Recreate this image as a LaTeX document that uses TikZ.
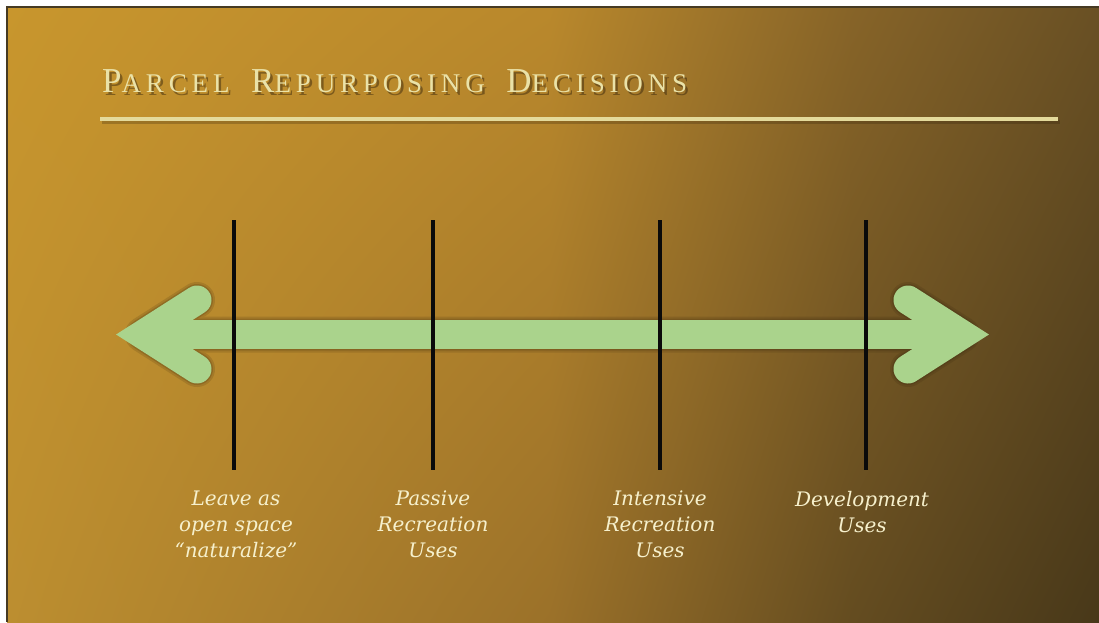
\documentclass[tikz,border=0pt]{standalone}
\usepackage{fontspec}
\setmainfont{Liberation Serif}
\newfontfamily\titlefont{Liberation Serif}[LetterSpace=18]
\newfontfamily\labelfont{DejaVu Serif}
\usetikzlibrary{calc,shadings}

% slide palette
\definecolor{bgTL}{RGB}{200,150,45}
\definecolor{bgTM}{RGB}{185,136,44}
\definecolor{bgTR1}{RGB}{135,100,40}
\definecolor{bgTR}{RGB}{105,80,36}
\definecolor{bgBL}{RGB}{188,142,48}
\definecolor{bgBM}{RGB}{155,113,41}
\definecolor{bgBR1}{RGB}{100,76,32}
\definecolor{bgBR}{RGB}{72,56,25}
\definecolor{frame}{RGB}{70,58,35}
\definecolor{cream}{RGB}{234,226,168}
\definecolor{rulecol}{RGB}{228,218,155}
\definecolor{labelcol}{RGB}{246,240,204}
\definecolor{arrowgreen}{RGB}{170,211,140}
\definecolor{shadowcol}{RGB}{45,30,10}

\newcommand\tcap[1]{{\fontsize{35}{36}\selectfont#1}}
\newcommand\wgap{\hspace{10pt}}
\newcommand\titletext{\titlefont\fontsize{27}{30}\selectfont
  \tcap{P}ARCEL\wgap{} \tcap{R}EPURPOSING\wgap{} \tcap{D}ECISIONS}

\tikzset{
  marker/.style={line width=4.5pt, draw={rgb,255:red,10;green,10;blue,10}},
  choice/.style={font=\labelfont\itshape\fontsize{20}{26}\selectfont,
                 text=labelcol, align=center, inner sep=0pt, anchor=north},
  arrowbody/.style={line width=29pt, draw=arrowgreen, line cap=round, line join=miter},
  shaftbody/.style={line width=29pt, draw=arrowgreen, line cap=butt},
}

\begin{document}
\begin{tikzpicture}[x=1pt,y=-1pt]
\useasboundingbox (0,0) rectangle (1099,622);
\fill[white] (0,0) rectangle (1099,622);

% background panels, shaded corner to corner
\shade[upper left=bgTL, upper right=bgTM, lower left=bgBL, lower right=bgBM]
  (7,7) rectangle (551,622);
\shade[upper left=bgTM, upper right=bgTR1, lower left=bgBM, lower right=bgBR1]
  (550,7) rectangle (851,622);
\shade[upper left=bgTR1, upper right=bgTR, lower left=bgBR1, lower right=bgBR]
  (850,7) rectangle (1099,622);
\draw[frame, line width=1.2pt] (7,622) -- (7,7) -- (1099,7);

% title with a soft shadow
\node[anchor=base west, inner sep=0pt, text=shadowcol, opacity=0.45] (titleshadow)
  at (104.5,95) {\titletext};
\node[anchor=base west, inner sep=0pt, text=cream] (title)
  at (102,92) {\titletext};

% rule under the title
\coordinate (ruleL) at (100,119);
\coordinate (ruleR) at (1058,119);
\draw[shadowcol, opacity=0.25, line width=4pt] ([shift={(2,3)}]ruleL) -- ([shift={(2,3)}]ruleR);
\draw[rulecol, line width=4pt] (ruleL) -- (ruleR);

% the double-headed arrow
\coordinate (la) at (143,334.5);
\coordinate (ra) at (962,334.5);

\foreach \w/\o in {36/0.14,32/0.17,29/0.2}{
  \begin{scope}[transparency group, opacity=\o, shift={(3,4)}]
    \draw[line width=\w pt, draw=shadowcol, line cap=round, line join=round]
      ([shift={(54,-34.5)}]la) -- (la) -- ([shift={(54,34.5)}]la);
    \draw[line width=\w pt, draw=shadowcol, line cap=round, line join=round]
      ([shift={(-54,-34.5)}]ra) -- (ra) -- ([shift={(-54,34.5)}]ra);
    \draw[line width=\w pt, draw=shadowcol] (la) -- (ra);
  \end{scope}
}
\draw[shaftbody] (la) -- (ra);
\draw[arrowbody] ([shift={(54,-34.5)}]la) -- (la) -- ([shift={(54,34.5)}]la);
\draw[arrowbody] ([shift={(-54,-34.5)}]ra) -- (ra) -- ([shift={(-54,34.5)}]ra);

% decision markers
\foreach \n/\x in {1/234,2/433,3/660,4/866}{
  \coordinate (top\n) at (\x,220);
  \coordinate (bot\n) at (\x,470);
  \draw[marker] (top\n) -- (bot\n);
}

% labels under the markers
\node[choice] (c1) at (236,491) {Leave as\\open space\\“naturalize”};
\node[choice] (c2) at (433,491) {Passive\\Recreation\\Uses};
\node[choice] (c3) at (660,491) {Intensive\\Recreation\\Uses};
\node[choice] (c4) at (862,491) {Development\\Uses};
\end{tikzpicture}
\end{document}
